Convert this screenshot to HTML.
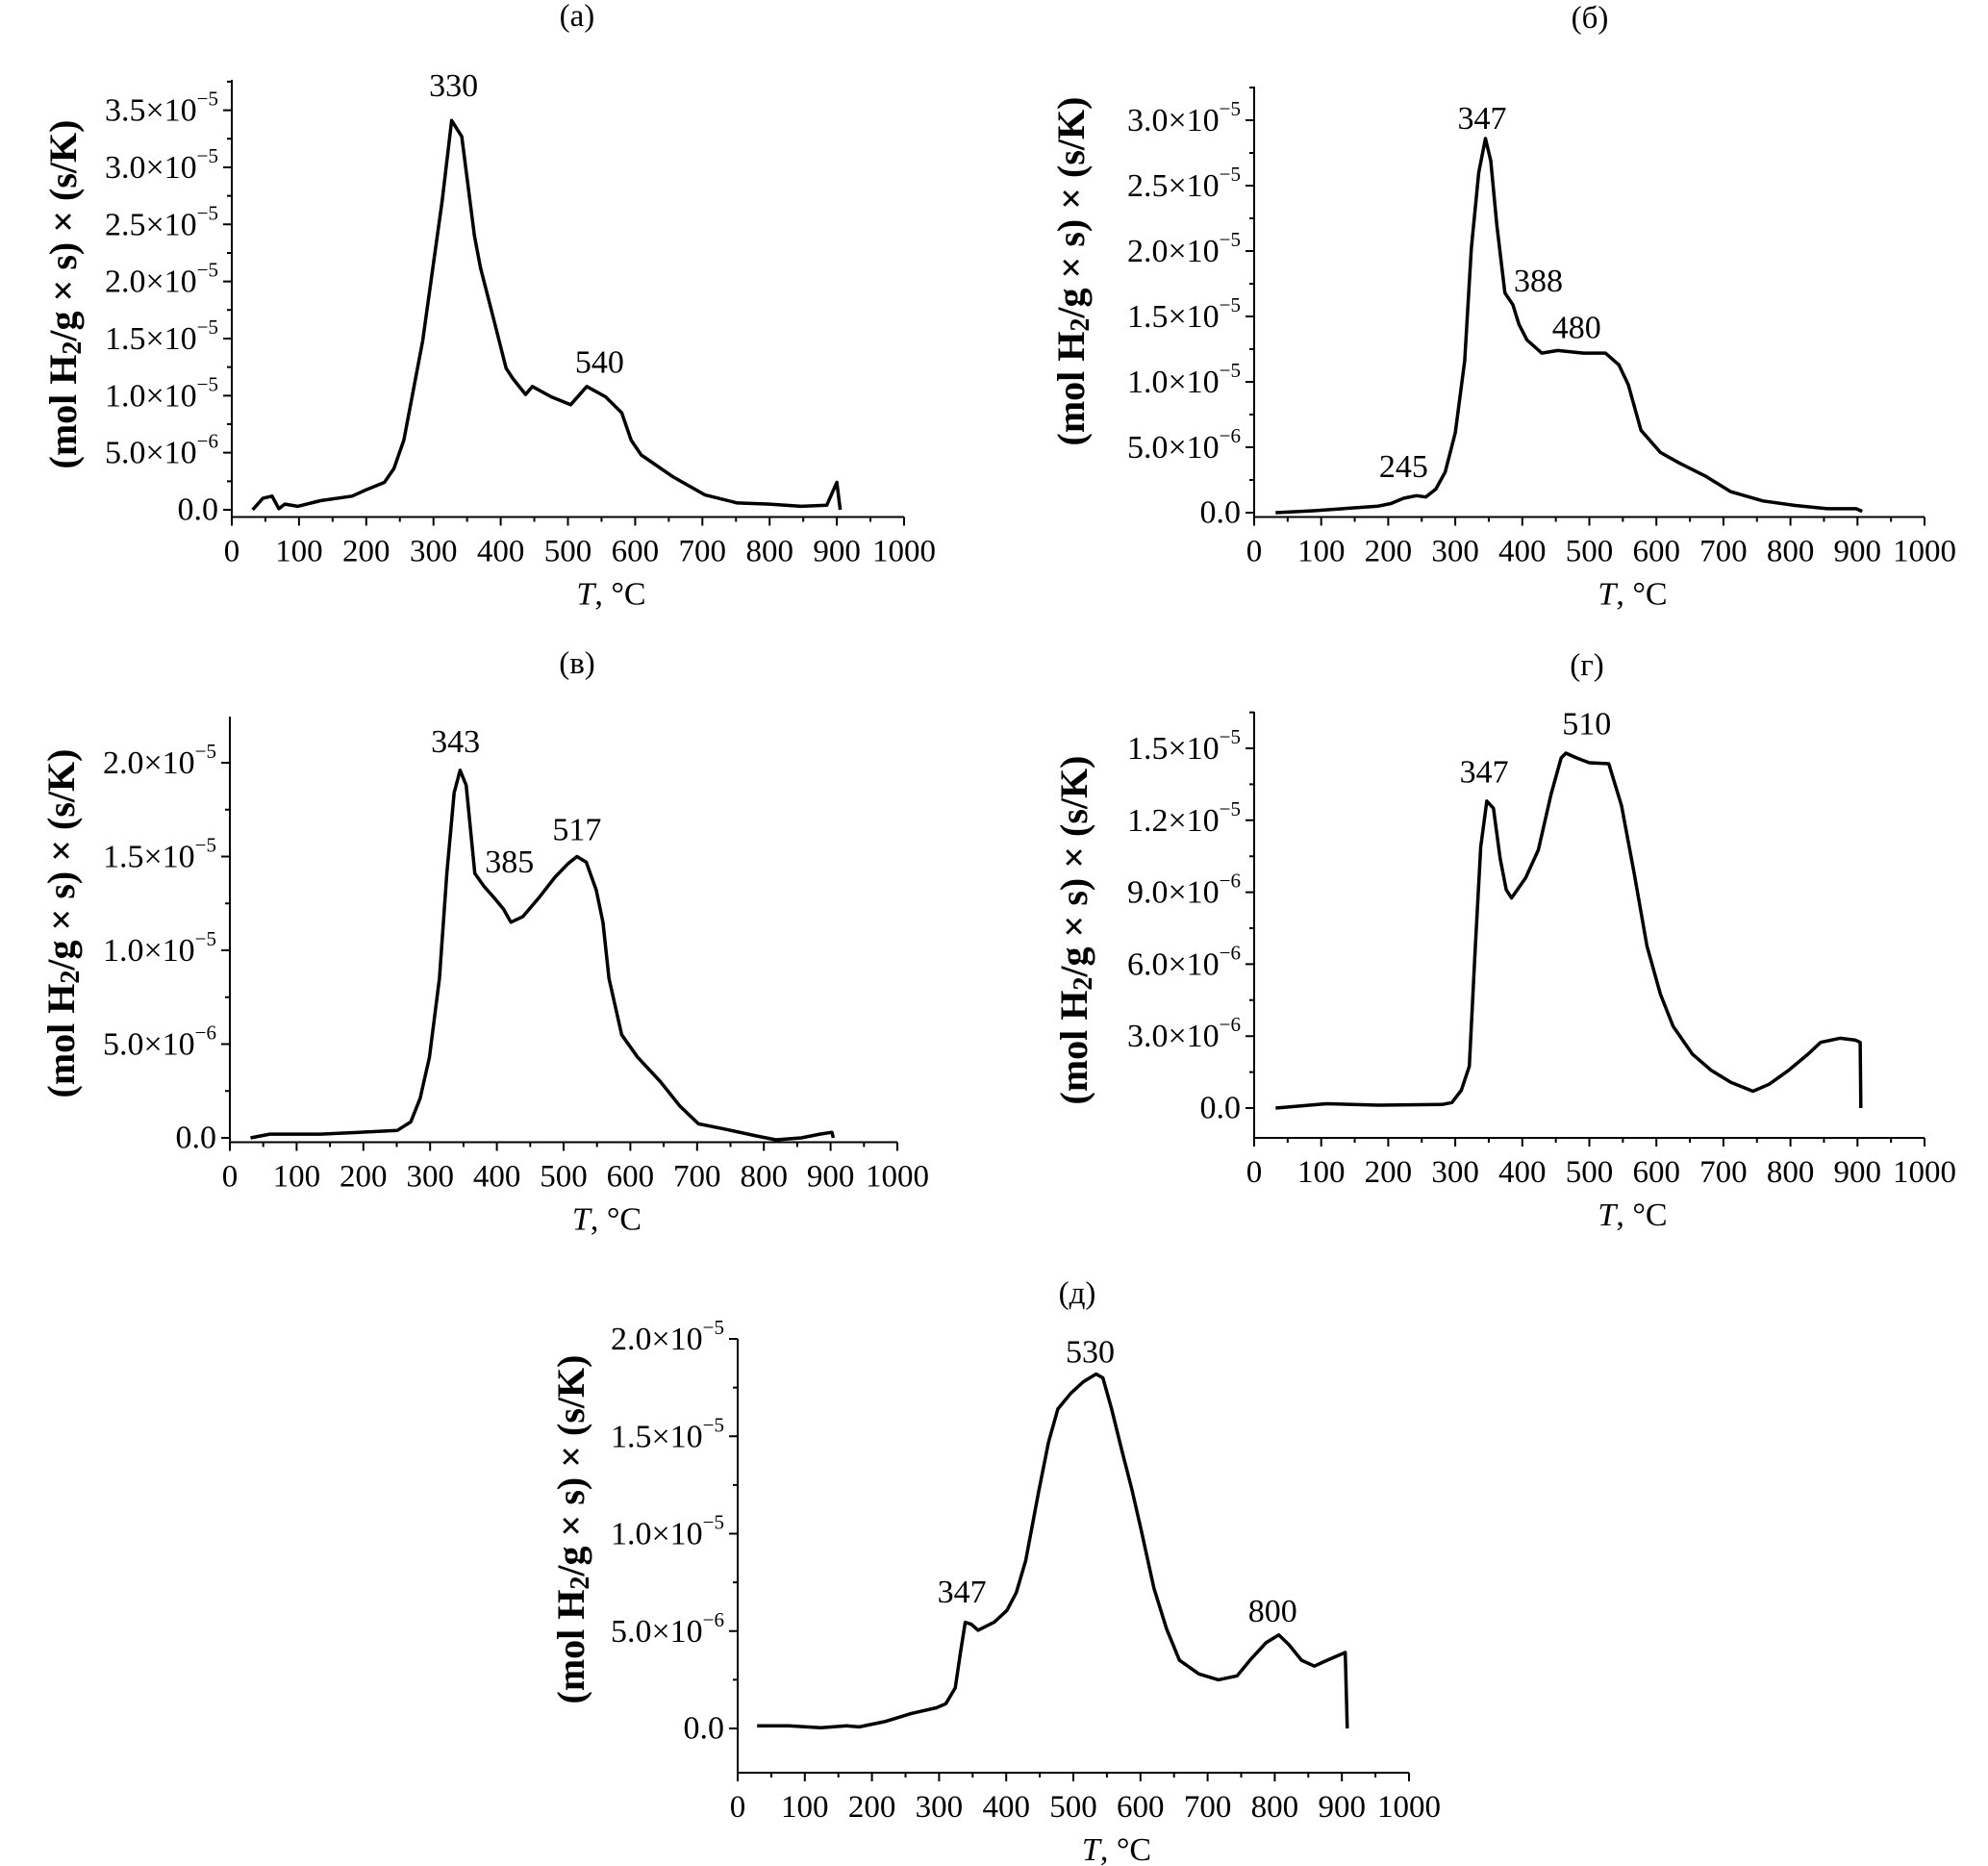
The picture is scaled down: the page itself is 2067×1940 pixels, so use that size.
<!DOCTYPE html>
<html><head><meta charset="utf-8"><style>
html,body{margin:0;padding:0;background:#fff}
svg{display:block}
text{font-family:"Liberation Serif",serif;fill:#000}
</style></head><body>
<svg id="fig" width="2067" height="1940" viewBox="0 0 2067 1940"></svg>
<script>
// ---- data (T in °C, values in units given by each panel's unit) ----
const tA=[31,46,60,70,79,98,132,179,198,227,241,256,284,313,327,342,361,370,390,408,418,437,447,475,504,528,556,580,594,609,656,704,752,800,847,885,900,905];
const vA=[0,0.1,0.12,0.01,0.05,0.03,0.08,0.12,0.17,0.24,0.36,0.61,1.48,2.71,3.41,3.27,2.4,2.12,1.66,1.24,1.15,1.01,1.08,0.99,0.92,1.08,0.99,0.85,0.61,0.48,0.29,0.13,0.06,0.05,0.03,0.04,0.24,0.0];
const tB=[32,89,185,204,223,242,256,271,285,300,314,324,335,345,353,362,374,386,395,407,429,453,491,524,544,558,577,606,634,673,711,759,807,855,898,907];
const vB=[0,0.015,0.05,0.07,0.11,0.13,0.12,0.18,0.31,0.61,1.16,2.02,2.6,2.86,2.69,2.2,1.68,1.59,1.44,1.32,1.22,1.24,1.22,1.22,1.13,0.98,0.63,0.46,0.38,0.28,0.16,0.09,0.055,0.03,0.03,0.01];
const tV=[31,60,136,194,251,271,285,299,314,325,336,345,354,367,381,396,410,421,439,463,487,506,520,534,549,559,568,587,611,645,674,702,741,789,818,856,884,902,904];
const vV=[0,0.02,0.02,0.03,0.04,0.085,0.21,0.43,0.85,1.41,1.84,1.96,1.88,1.41,1.34,1.28,1.22,1.15,1.18,1.28,1.39,1.46,1.5,1.47,1.32,1.15,0.85,0.55,0.43,0.3,0.17,0.075,0.047,0.01,-0.01,0,0.02,0.03,0];
const tG=[32,108,185,280,295,309,321,330,338,347,357,367,376,384,405,424,443,458,465,481,500,529,548,567,586,606,625,654,682,711,744,768,797,826,845,874,897,904,905];
const vG=[0,0.18,0.12,0.15,0.23,0.74,1.74,6.76,10.9,12.8,12.5,10.4,9.1,8.76,9.6,10.77,13.1,14.6,14.8,14.6,14.4,14.36,12.6,9.77,6.76,4.75,3.41,2.24,1.57,1.07,0.7,0.99,1.57,2.24,2.74,2.91,2.83,2.74,0];
const tD=[29,76,124,162,181,219,258,296,310,324,332,339,348,358,382,401,415,429,448,463,477,496,515,534,544,557,572,587,601,620,639,658,687,716,744,763,787,806,821,840,859,878,905,908];
const vD=[0.14,0.14,0.04,0.14,0.08,0.35,0.76,1.06,1.27,2.08,3.92,5.45,5.35,5.04,5.45,6.06,6.98,8.6,12.1,14.7,16.4,17.2,17.8,18.2,18.0,16.4,14.3,12.3,10.2,7.2,5.1,3.5,2.8,2.5,2.7,3.5,4.4,4.8,4.3,3.5,3.2,3.5,3.9,0];
const xTicks=[0,100,200,300,400,500,600,700,800,900,1000];
const ticksA=[0,0.5,1,1.5,2,2.5,3,3.5];
const labelsA=["0.0","5.0×10|−6","1.0×10|−5","1.5×10|−5","2.0×10|−5","2.5×10|−5","3.0×10|−5","3.5×10|−5"];
const ticksB=[0,0.5,1,1.5,2,2.5,3];
const labelsB=["0.0","5.0×10|−6","1.0×10|−5","1.5×10|−5","2.0×10|−5","2.5×10|−5","3.0×10|−5"];
const ticksV=[0,0.5,1,1.5,2];
const labelsV=["0.0","5.0×10|−6","1.0×10|−5","1.5×10|−5","2.0×10|−5"];
const ticksG=[0,3,6,9,12,15];
const labelsG=["0.0","3.0×10|−6","6.0×10|−6","9.0×10|−6","1.2×10|−5","1.5×10|−5"];
const ticksD=[0,5,10,15,20];
const labelsD=["0.0","5.0×10|−6","1.0×10|−5","1.5×10|−5","2.0×10|−5"];
const annA=[["330",330,3.71],["540",547,1.29]];
const annB=[["347",340,3.01],["388",424,1.77],["480",481,1.41],["245",223,0.35]];
const annV=[["343",338,2.11],["385",419,1.47],["517",520,1.64]];
const annG=[["347",343,14.0],["510",496,16.0]];
const annD=[["347",334,7.0],["530",525,19.3],["800",797,6.0]];

const NS="http://www.w3.org/2000/svg";
const svg=document.getElementById('fig');
function mk(tag,attrs,parent){const e=document.createElementNS(NS,tag);for(const k in attrs)e.setAttribute(k,attrs[k]);(parent||svg).appendChild(e);return e;}

function panel(p){
  const g=mk('g',{});
  
  
  const sx=T=>p.x0+(p.x1-p.x0)*T/1000;
  const sy=v=>p.y0+(p.yv-p.y0)*v/p.vref;
  const t=mk('text',{x:p.tx,y:p.ty,'font-size':33,'text-anchor':'middle','dominant-baseline':'central'},g);
  t.textContent=p.title;
  
  
  const ax=mk('path',{d:`M${p.x0} ${p.top} V${p.bot} H${p.x1}`,stroke:'#000','stroke-width':2,fill:'none'},g);
  
  
  let d='';
  for(let T=0;T<=1000;T+=50){const x=sx(T);d+=`M${x} ${p.bot} v${T%100===0?9:5}`;}
  const step=p.ticks[1]-p.ticks[0];
  for(let v=p.ticks[0];sy(v)>=p.top-0.5;v+=step/2){const y=sy(v);d+=`M${p.x0} ${y} h${Math.abs((v/step)-Math.round(v/step))<1e-6?-9:-5}`;}
  const tk=mk('path',{d:d,stroke:'#000','stroke-width':2,fill:'none'},g);
  
  
  xTicks.forEach(T=>{
    const e=mk('text',{x:sx(T),y:p.bot+36,'font-size':33,'text-anchor':'middle','dominant-baseline':'central'},g);
    e.textContent=T;
    
    
  });
  p.ticks.forEach((v,i)=>{
    const parts=p.labels[i].split('|');
    const e=mk('text',{x:p.x0-14,y:sy(v),'font-size':34,'text-anchor':'end','dominant-baseline':'central'},g);
    
    
    if(parts.length===1){e.textContent=parts[0];}
    else{
      const a=mk('tspan',{},e);a.textContent=parts[0];
      const b=mk('tspan',{dy:-12,'font-size':21},e);b.textContent=parts[1];
    }
  });
  const yt=mk('text',{transform:`translate(${p.ytx},${p.yty}) rotate(-90)`,'font-size':40,'font-weight':'bold','text-anchor':'middle','dominant-baseline':'central'},g);
  
  
  const s1=mk('tspan',{},yt);s1.textContent='(mol H';
  const s2=mk('tspan',{dy:10,'font-size':28},yt);s2.textContent='2';
  const s3=mk('tspan',{dy:-10},yt);s3.textContent='/g × s) × (s/K)';
  const xt=mk('text',{x:(p.x0+p.x1)/2+45,y:p.bot+80,'font-size':34,'text-anchor':'middle','dominant-baseline':'central'},g);
  
  
  const i1=mk('tspan',{'font-style':'italic'},xt);i1.textContent='T';
  const i2=mk('tspan',{},xt);i2.textContent=', °C';
  let pd='';
  p.T.forEach((T,i)=>{pd+=(i?'L':'M')+sx(T).toFixed(1)+' '+sy(p.V[i]).toFixed(1);});
  const ln=mk('path',{d:pd,stroke:'#000','stroke-width':3.5,fill:'none','stroke-linejoin':'round'},g);
  
  
  p.ann.forEach(a=>{
    const e=mk('text',{x:sx(a[1]),y:sy(a[2]),'font-size':34,'text-anchor':'middle','dominant-baseline':'central'},g);
    e.textContent=a[0];
    
    
  });
}

panel({id:'a',title:'(а)',tx:600,ty:17,x0:241,x1:940,y0:530,yv:114.6,vref:3.5,top:83,bot:537.5,ticks:ticksA,labels:labelsA,ytx:65,yty:306,T:tA,V:vA,ann:annA});
panel({id:'b',title:'(б)',tx:1653,ty:19,x0:1304,x1:2001,y0:533,yv:125,vref:3.0,top:90,bot:537.5,ticks:ticksB,labels:labelsB,ytx:1113,yty:282,T:tB,V:vB,ann:annB});
panel({id:'v',title:'(в)',tx:600,ty:690,x0:239,x1:933,y0:1183,yv:793,vref:2.0,top:745,bot:1187.5,ticks:ticksV,labels:labelsV,ytx:63,yty:960,T:tV,V:vV,ann:annV});
panel({id:'g',title:'(г)',tx:1650,ty:692,x0:1304,x1:2001,y0:1152,yv:778,vref:15,top:740,bot:1183,ticks:ticksG,labels:labelsG,ytx:1116,yty:967,T:tG,V:vG,ann:annG});
panel({id:'d',title:'(д)',tx:1120,ty:1345,x0:767,x1:1465,y0:1797,yv:1392,vref:20,top:1392,bot:1843,ticks:ticksD,labels:labelsD,ytx:593,yty:1590,T:tD,V:vD,ann:annD});
</script>
</body></html>
